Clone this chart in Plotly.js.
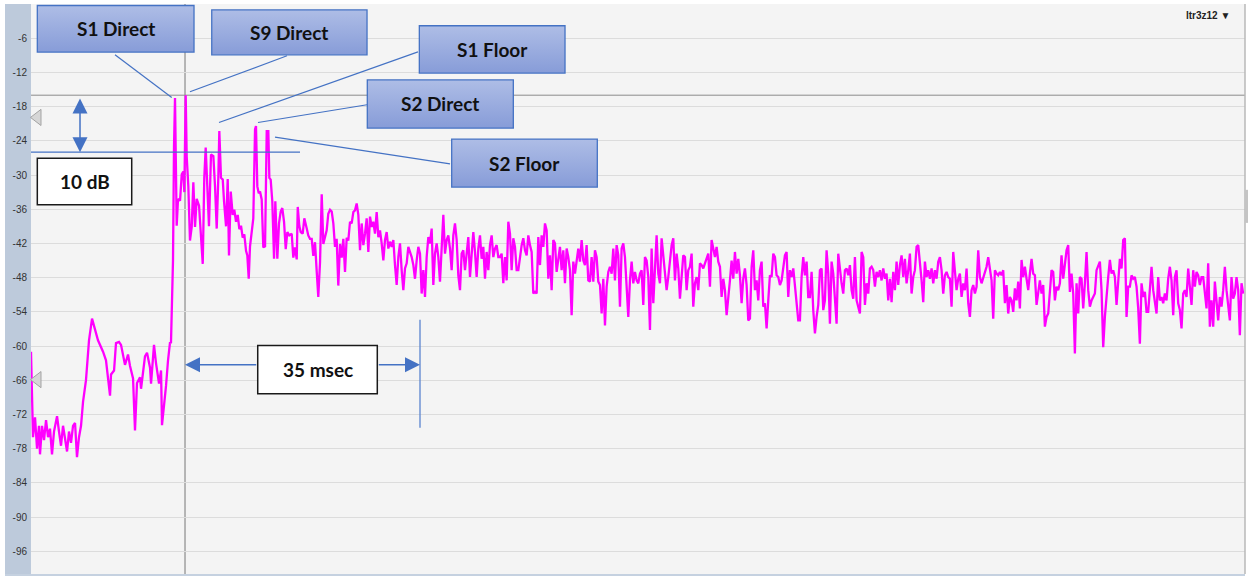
<!DOCTYPE html>
<html>
<head>
<meta charset="utf-8">
<script src="https://cdn.plot.ly/plotly-3.0.1.min.js"></script>
<style>
  html, body { margin: 0; padding: 0; background: #ffffff; }
  #chart { width: 1248px; height: 576px; }
</style>
</head>
<body>
<div id="chart"></div>
<script>
// Energy-time response: level (dB) against time (ms), t = 0 at the cursor.

// Onset region, irregular sample times (ms) and levels (dB)
const onsetMs = [
  -22.94,-22.64,-22.34,-22.04,-21.75,-21.60,-21.30,-21.00,-20.70,-20.40,
  -20.11,-19.81,-19.51,-19.21,-19.06,-18.77,-18.47,-18.17,-17.87,-17.57,
  -17.28,-16.98,-16.68,-16.38,-16.09,-15.79,-15.49,-15.19,-14.75,-14.30,
  -13.85,-13.40,-12.96,-12.21,-11.77,-11.17,-11.02,-10.57,-10.28,-9.83,
  -9.53,-8.94,-8.49,-8.19,-7.74,-7.45,-7.15,-6.70,-6.55,-5.96,
  -5.66,-5.21,-5.06,-4.62,-4.32,-3.87,-3.57,-3.43,-2.98,-2.83,
  -2.53,-2.23,-2.09,-1.79,-1.64,-1.49,-1.24,-1.04,-0.74,-0.49,
  -0.25,-0.10,0.10,0.25,0.49,0.74,1.00,1.24,1.49,1.74,
  2.09,2.38,2.64,2.87,3.08,3.32,3.57,3.87,4.22,4.47,
  4.72,4.96,5.11,5.36,5.62,5.81,6.11,6.36,6.55,6.81,
  7.10,7.34,7.60,7.85,8.09,8.34,8.59,8.83,9.09,9.28,
  9.49,9.68,9.93,10.17,10.43,10.57,10.77,10.98,11.17,11.42,
  11.66,11.92,12.17,12.41,12.56,12.76,13.00,13.26,13.45,13.75,
  14.00,14.25,14.49,14.75,15.00,15.24,15.53,15.89,16.13,16.38,
  16.64,16.79,17.02,17.23,17.53,17.77,18.13,18.36,18.62,18.87,
  19.11,19.36,19.62,19.85,20.11,20.36,20.60,20.85,21.10,21.34,
  21.60,21.85,22.09,22.34,22.59,22.83,23.09,23.34,23.58,23.83,
  24.08,24.32
];
const onsetDb = [
  -61,-76,-72.5,-78,-74,-79,-74,-76.5,-73,-76,
  -74.5,-79,-75,-73.5,-72.3,-75,-77.5,-74,-76,-78.5,
  -75,-77,-74,-73.5,-79.5,-76,-74,-69.8,-66,-59,
  -55.2,-57,-59,-61,-62.5,-68.7,-65,-64.3,-59.5,-59.3,
  -59.8,-63.3,-61.5,-63.5,-65.7,-74.8,-66.5,-65.5,-67.5,-61.8,
  -61.2,-63.8,-66.6,-59.8,-63,-66.6,-64.3,-73.9,-69.4,-67,
  -62.5,-59.3,-59.5,-45,-25,-16.5,-38.9,-34.2,-34.5,-29.9,
  -29.4,-33,-16,-26.7,-31.9,-41.5,-39.1,-31.3,-39.1,-34.2,
  -35.4,-40,-45.6,-30.5,-25.2,-32,-39,-26.4,-26.7,-32,
  -39.4,-30.5,-22.3,-30.5,-30.8,-34.6,-39,-30.7,-44.1,-32.9,
  -37,-36.1,-38.2,-37,-39.5,-38.9,-41,-40.4,-43.3,-44.1,
  -48.2,-42.5,-40.4,-37.6,-22,-21.4,-32,-33.2,-32.9,-34.3,
  -42.7,-42.5,-22.3,-22.3,-30.5,-30.8,-34.6,-44.7,-34.6,-44.7,
  -38.5,-36.4,-35.8,-38.2,-43,-40,-40.6,-40.3,-44.5,-42.7,
  -44.8,-35.6,-38.9,-40,-40.3,-37.6,-39.4,-40.6,-41.2,-41.2,
  -44.2,-41.8,-47,-51.4,-45.3,-33.4,-42.1,-41,-39.7,-36.8,
  -36.1,-36.4,-38.5,-42.6,-41.2,-49.4,-42.1,-44.5,-41.2,-47,
  -41,-41.5
];

// Decay tail, uniformly sampled from tailStartMs every tailStepMs
const tailStartMs = 24.575;
const tailStepMs = 0.2482;
const tailDb = [
  -38.2,-38.5,-36.5,-36.2,-35,-37,-43.2,-38.5,-42.3,-40.3,
  -37.6,-43.5,-37.3,-39.1,-38.2,-40.3,-36.5,-40.9,-39.7,-42,
  -45,-41.4,-40,-42.9,-41.7,-42.6,-41.4,-45.8,-49.3,-44.4,
  -42,-46.7,-50.2,-46.4,-45.5,-42.6,-43.5,-44.4,-45.8,-48.2,
  -45,-42.6,-43.8,-50.8,-46.7,-51.4,-44.4,-40.9,-42,-39.4,
  -49.3,-43.8,-42,-44.4,-48.7,-42,-37,-43.8,-41.4,-40.6,
  -42.9,-46.7,-40.6,-38.5,-41.4,-47.6,-50.2,-43.8,-43.2,-46.7,
  -43.5,-40.9,-47.9,-43.2,-40,-43.5,-47.9,-42.9,-40.6,-44.7,
  -42.6,-48.2,-43.5,-46.7,-42.3,-40.6,-44.4,-42.9,-42.3,-44.4,
  -44.4,-43.8,-49,-44.4,-48.5,-38.2,-40.3,-46.7,-41.1,-42.6,
  -46.7,-46.7,-44.1,-42.3,-41.1,-43.2,-44.1,-40.6,-42.3,-43.5,
  -50.8,-50.5,-50.8,-40.9,-45.8,-40.6,-42.6,-38.5,-39.7,-48.2,
  -44.1,-50.2,-41.4,-42,-47,-45,-42.6,-46.7,-43.2,-49,
  -42.9,-44.4,-46.7,-54.6,-45.2,-47.3,-44.7,-42.9,-45.2,-41.4,
  -45,-45.8,-42.3,-48.5,-48.7,-44.4,-48.7,-43.2,-44.4,-48.7,
  -49.3,-54.3,-48.2,-56.4,-49.6,-47,-46.1,-47.3,-42.9,-48.5,
  -42.3,-44.1,-53.1,-42.9,-42,-44.4,-49.6,-54.9,-48.5,-45.2,
  -49,-47,-48.5,-49,-47.3,-46.7,-52.8,-44.4,-45,-47.9,
  -57.2,-42.9,-52.5,-46.1,-40.6,-47.3,-49,-41.1,-44.4,-47,
  -50.2,-47.9,-44.4,-42.3,-41.1,-48.5,-43.8,-46.4,-51.7,-48.2,
  -44.1,-44.4,-50.2,-46.7,-46.1,-43.8,-53.1,-49,-47.9,-50.2,
  -45.5,-45.8,-46.4,-45.5,-44.4,-43.8,-49.6,-41.4,-42.9,-44.4,
  -42.6,-45.2,-46.1,-51.4,-48.2,-50.2,-54.6,-50.8,-48.5,-45,
  -48.2,-43.5,-47.3,-44.7,-47.6,-52.5,-48.2,-46.4,-49.3,-55.5,
  -55.2,-46.1,-43.2,-50.2,-48.5,-52,-46.7,-45.2,-53.1,-52.5,
  -56.9,-52,-47.6,-47.9,-43.8,-44.4,-47.6,-47.9,-49.3,-48.5,
  -46.1,-44.1,-43.5,-51.4,-46.7,-47.9,-46.4,-49.6,-51.4,-55.5,
  -55.5,-47.9,-44.4,-47.6,-45.2,-51.4,-51.4,-47,-53.7,-57.8,
  -54.9,-52.8,-46.7,-46.4,-53.7,-52,-43.2,-47.3,-56.1,-45.2,
  -47.3,-52,-56.1,-43.8,-46.7,-49,-50.8,-46.7,-46.4,-47.6,
  -45.8,-50.2,-51.7,-44.4,-52,-53.1,-54.3,-43.5,-44.4,-52.8,
  -49,-50.8,-46.4,-46.1,-46.7,-49.6,-47,-47.9,-46.7,-48.5,
  -46.4,-48.2,-47.3,-52,-48.2,-52.3,-47,-50.2,-45.2,-49.3,
  -45.8,-44.1,-47.9,-44.7,-49,-46.7,-43.8,-50.8,-47.9,-46.7,
  -42.6,-42.3,-45.2,-48.5,-52.3,-45.2,-47.9,-46.7,-48.2,-46.4,
  -49,-46.7,-48.2,-45.2,-44.4,-46.7,-50.8,-47.6,-47,-47.9,
  -48.2,-53.1,-43.5,-46.4,-50.2,-48.2,-47.3,-51.4,-49,-50.2,
  -46.4,-52.5,-54.9,-50.2,-49.3,-50.8,-49.6,-43.2,-47.9,-49,
  -47.9,-46.7,-46.1,-44.4,-46.7,-48.5,-55.2,-46.7,-47.3,-47.6,
  -47,-47.6,-46.7,-52.5,-49.3,-54.3,-51.4,-52,-54,-49.9,
  -52,-48.7,-53.4,-44.9,-47.9,-46.1,-48.2,-50.2,-47.3,-44.7,
  -47.3,-47.6,-52.8,-50.8,-48.5,-50.8,-49.3,-56.6,-54.9,-54.3,
  -50.2,-46.7,-47,-52,-49.6,-50.2,-49,-44.1,-48.2,-45.8,
  -43.2,-42.3,-50.5,-47.3,-50.8,-61.3,-49,-54.3,-47.9,-48.2,
  -53.4,-49,-43.5,-50.2,-53.1,-52,-51.4,-50.8,-46.7,-45.8,
  -45.2,-50.2,-60.2,-54.9,-50.8,-47.9,-44.9,-47.3,-46.7,-47.9,
  -52.8,-47.9,-44.7,-46.4,-41.4,-41.1,-54.9,-49.6,-49.6,-47.6,
  -48.2,-47.9,-49.6,-53.4,-59.6,-49,-51.4,-50.5,-54,-54,
  -50.2,-46.1,-50.2,-52,-54.3,-47.9,-52,-51.4,-52.5,-50.8,
  -52,-48.2,-46.1,-48.5,-54.6,-47.9,-46.7,-52.5,-53.7,-56.9,
  -50.8,-50.2,-51.4,-46.4,-49.6,-52.8,-46.7,-49.6,-47,-47.6,
  -49.3,-47.9,-47.9,-50.2,-53.4,-45.5,-56.6,-52,-56.6,-48.7,
  -52.5,-55.5,-51.4,-53.1,-50.2,-46.1,-50.2,-52.8,-55.5,-47.9,
  -51.7,-50.8,-47.9,-50.2,-58.1,-49,-50.8
];

// Axis ticks
const yTicks = [-6,-12,-18,-24,-30,-36,-42,-48,-54,-60,-66,-72,-78,-84,-90,-96];
const timeRangeMs = [-22.94, 157.88];
const levelRangeDb = [-100, 0];

// Reference level, span marked as 10 dB and gate length marked as 35 msec
const refLevelDb = -16;
const spanDb = 10;
const gateMs = 35;
const triggerLevelsDb = [-19.9, -65.9];

// Callout boxes: [label, tStart, tEnd, dbTop, dbBottom]
const callouts = [
  ['S1 Direct', -22.0, 1.34, -0.26, -8.44],
  ['S9 Direct', 3.98, 27.11, -1.02, -8.91],
  ['S1 Floor', 34.90, 56.60, -3.82, -12.12],
  ['S2 Direct', 27.15, 48.90, -13.30, -21.77],
  ['S2 Floor', 39.72, 61.41, -23.70, -32.12]
];
// Leader lines: [tFrom, dbFrom, tTo, dbTo]
const leaders = [
  [-10.43, -8.91, -1.98, -16.40],
  [15.19, -9.09, 0.74, -15.40],
  [34.70, -8.39, 5.06, -20.79],
  [27.11, -17.68, 10.87, -20.79],
  [39.47, -28.04, 13.40, -23.35]
];
// Plain labelled boxes: [label, tStart, tEnd, dbTop, dbBottom]
const tagBoxes = [
  ['10 dB', -22.0, -7.94, -27.04, -35.23],
  ['35 msec', 10.83, 28.64, -59.91, -68.39]
];

const tailMs = tailDb.map((_, i) => tailStartMs + i * tailStepMs);

const BLUE = '#4472c4';
const labelFont = { family: 'Lato, "Open Sans", sans-serif', size: 19, color: '#111111' };

const gradientSvg = encodeURIComponent(
  "<svg xmlns='http://www.w3.org/2000/svg' viewBox='0 0 10 10' preserveAspectRatio='none'>" +
  "<defs><linearGradient id='g' x1='0' y1='0' x2='0' y2='1'>" +
  "<stop offset='0' stop-color='#aebde6'/><stop offset='1' stop-color='#879cd8'/>" +
  "</linearGradient></defs><rect width='10' height='10' fill='url(#g)'/></svg>");

const traces = [
  {
    type: 'scatter', mode: 'lines',
    x: onsetMs.concat(tailMs),
    y: onsetDb.concat(tailDb),
    line: { color: '#ff00ff', width: 2.3 },
    hoverinfo: 'skip'
  },
  {
    type: 'scatter', mode: 'markers',
    x: triggerLevelsDb.map(() => timeRangeMs[0] + 0.97),
    y: triggerLevelsDb,
    marker: { symbol: 'triangle-left', size: 14, color: '#d6d6d6', line: { color: '#a3a3a3', width: 1 } },
    cliponaxis: false,
    hoverinfo: 'skip'
  }
];

const shapes = [];
const images = [];
const annotations = [];

// Left axis band and bottom border of the panel
shapes.push({ type: 'rect', xref: 'paper', yref: 'paper', x0: -26 / 1214, x1: 0, y0: -2 / 570, y1: 1,
  fillcolor: '#bdcadb', line: { width: 0 }, layer: 'below' });
shapes.push({ type: 'rect', xref: 'paper', yref: 'paper', x0: -26 / 1214, x1: 1, y0: -2 / 570, y1: 0,
  fillcolor: '#c5d1e0', line: { width: 0 }, layer: 'below' });
// Right border and scroll tab
shapes.push({ type: 'line', xref: 'paper', yref: 'paper', x0: 1, x1: 1, y0: 0, y1: 1,
  line: { color: '#b9b9b9', width: 1.5 }, layer: 'above' });
shapes.push({ type: 'rect', xref: 'paper', yref: 'paper', x0: 1, x1: 1 + 3 / 1214, y0: 0.616, y1: 0.674,
  fillcolor: '#c4c4c4', line: { width: 0 }, layer: 'above' });

// Cursor at t = 0 and reference level
shapes.push({ type: 'line', xref: 'x', yref: 'paper', x0: 0, x1: 0, y0: 0, y1: 1,
  line: { color: '#a0a0a0', width: 1.5 }, layer: 'between' });
shapes.push({ type: 'line', xref: 'paper', yref: 'y', x0: 0, x1: 1, y0: refLevelDb, y1: refLevelDb,
  line: { color: '#8c8c8c', width: 1 }, layer: 'between' });

// Level 10 dB below the reference
shapes.push({ type: 'line', xref: 'x', yref: 'y', x0: timeRangeMs[0], x1: 17.13,
  y0: refLevelDb - spanDb, y1: refLevelDb - spanDb, line: { color: BLUE, width: 1.3 }, layer: 'above' });
// End of the 35 ms gate
shapes.push({ type: 'line', xref: 'x', yref: 'y', x0: gateMs, x1: gateMs, y0: -55.4, y1: -74.35,
  line: { color: '#5a84cf', width: 1.3 }, layer: 'above' });

leaders.forEach(([t0, d0, t1, d1]) => {
  shapes.push({ type: 'line', xref: 'x', yref: 'y', x0: t0, y0: d0, x1: t1, y1: d1,
    line: { color: BLUE, width: 1.2 }, layer: 'above' });
});

callouts.forEach(([label, t0, t1, top, bottom]) => {
  images.push({ source: 'data:image/svg+xml;charset=utf-8,' + gradientSvg,
    xref: 'x', yref: 'y', x: t0, y: top, sizex: t1 - t0, sizey: top - bottom,
    xanchor: 'left', yanchor: 'top', sizing: 'stretch', layer: 'above' });
  shapes.push({ type: 'rect', xref: 'x', yref: 'y', x0: t0, x1: t1, y0: bottom, y1: top,
    line: { color: BLUE, width: 1.3 }, fillcolor: 'rgba(0,0,0,0)', layer: 'above' });
  annotations.push({ text: '<b>' + label + '</b>', x: (t0 + t1) / 2, y: (top + bottom) / 2,
    xref: 'x', yref: 'y', showarrow: false, font: labelFont });
});

tagBoxes.forEach(([label, t0, t1, top, bottom]) => {
  shapes.push({ type: 'rect', xref: 'x', yref: 'y', x0: t0, x1: t1, y0: bottom, y1: top,
    line: { color: '#1a1a1a', width: 1.5 }, fillcolor: '#ffffff', layer: 'above' });
  annotations.push({ text: '<b>' + label + '</b>', x: (t0 + t1) / 2, y: (top + bottom) / 2,
    xref: 'x', yref: 'y', showarrow: false, font: labelFont });
});

// Double arrow spanning the 10 dB drop
const arrowStyle = { showarrow: true, arrowhead: 2, arrowsize: 2, arrowwidth: 1.5, arrowcolor: BLUE,
  standoff: 0, startstandoff: 0, text: '', xref: 'x', yref: 'y', axref: 'x', ayref: 'y' };
annotations.push(Object.assign({}, arrowStyle, {
  x: -15.64, y: refLevelDb - spanDb, ax: -15.64, ay: refLevelDb - 0.3, arrowside: 'end+start', startarrowhead: 2, startarrowsize: 2 }));
// Arrows either side of the 35 msec box
const gateY = -63.3;
annotations.push(Object.assign({}, arrowStyle, { x: 0, y: gateY, ax: tagBoxes[1][1], ay: gateY }));
annotations.push(Object.assign({}, arrowStyle, { x: gateMs, y: gateY, ax: tagBoxes[1][2], ay: gateY }));

// Trace selector caption
annotations.push({ text: 'ltr3z12 ▼', xref: 'paper', yref: 'paper', x: 0.9893, y: 0.9807,
  xanchor: 'right', yanchor: 'middle', showarrow: false,
  font: { family: '"Liberation Sans", Arial, sans-serif', size: 10, color: '#222222', weight: 'bold' } });

const layout = {
  width: 1248, height: 576,
  margin: { l: 31, r: 3, t: 4, b: 2, pad: 0 },
  paper_bgcolor: '#ffffff',
  plot_bgcolor: '#f4f4f4',
  showlegend: false,
  xaxis: { range: timeRangeMs, showgrid: false, zeroline: false, showticklabels: false,
    ticks: '', showline: false, fixedrange: true },
  yaxis: { range: levelRangeDb, tickvals: yTicks, ticktext: yTicks.map(String),
    gridcolor: '#dcdcdc', gridwidth: 1, zeroline: false, showline: false, ticks: '',
    ticklabelstandoff: 3,
    tickfont: { family: '"Liberation Sans", Arial, sans-serif', size: 10, color: '#333333' },
    fixedrange: true },
  shapes: shapes,
  images: images,
  annotations: annotations
};

Plotly.newPlot('chart', traces, layout, { displayModeBar: false, staticPlot: true });
</script>
</body>
</html>
